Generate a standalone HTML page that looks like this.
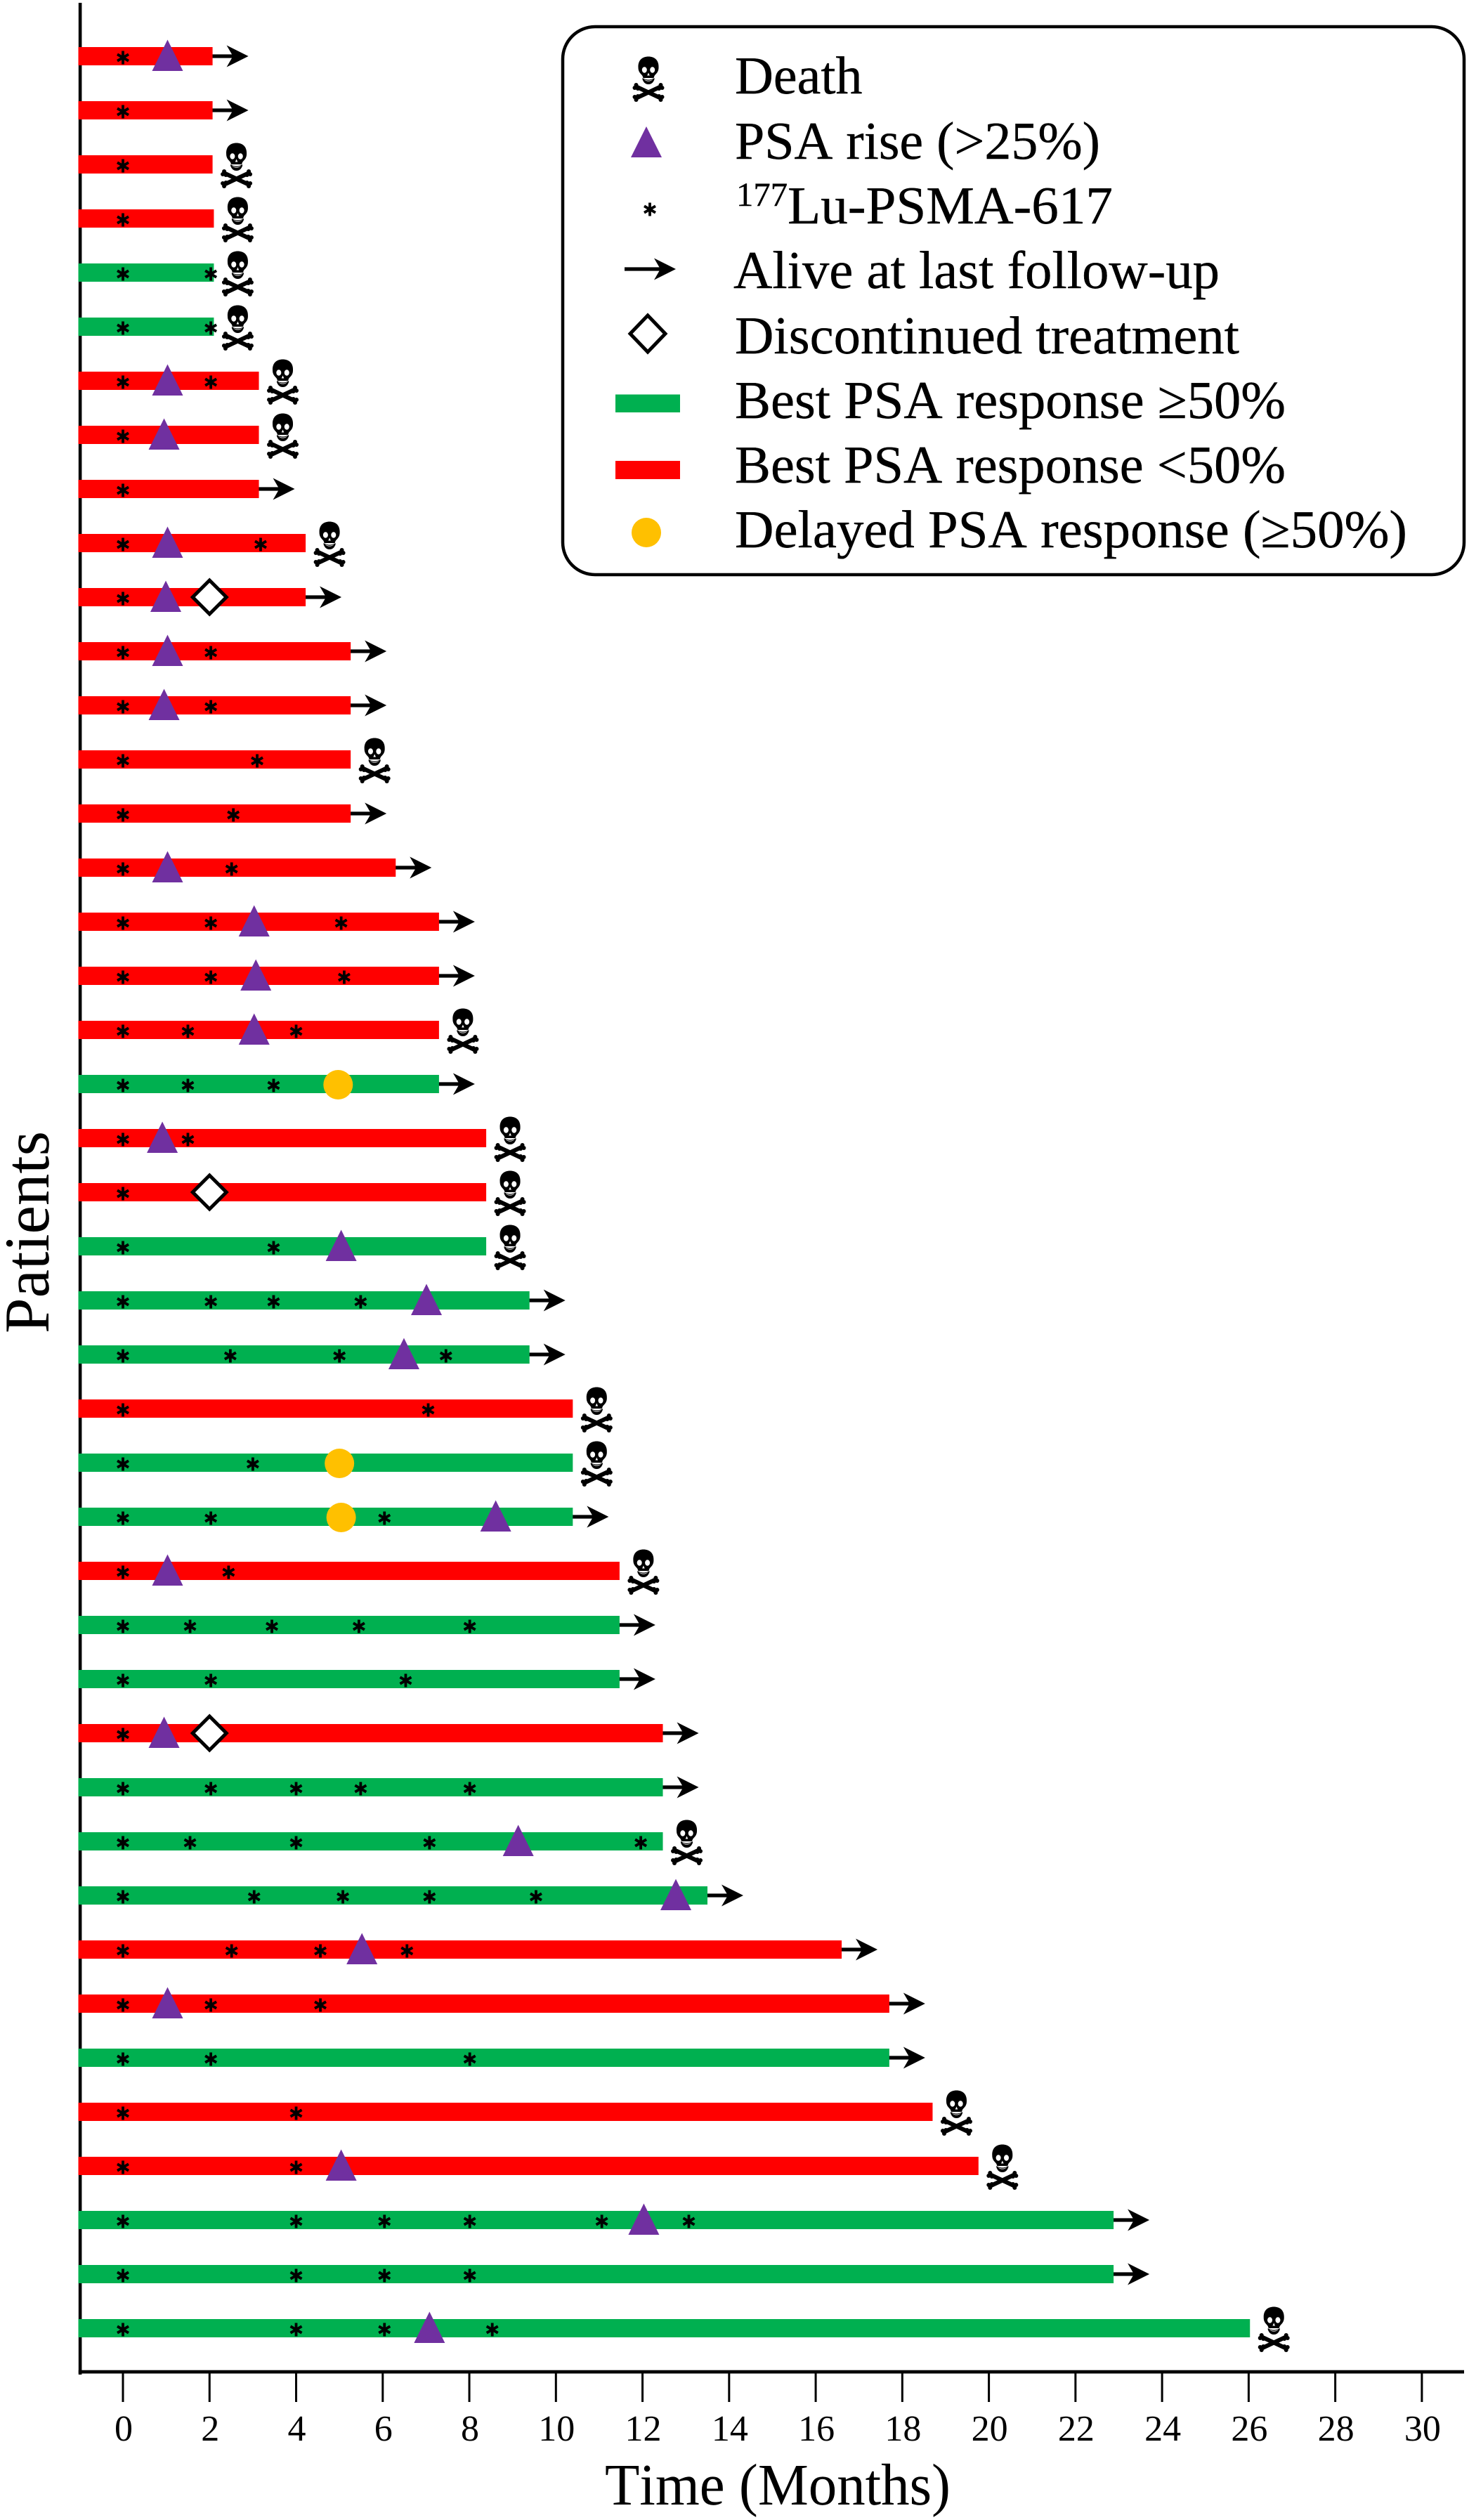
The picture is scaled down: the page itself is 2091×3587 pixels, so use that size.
<!DOCTYPE html>
<html lang="en">
<head>
<meta charset="utf-8">
<title>Patient swimmer plot</title>
<style>
html,body{margin:0;padding:0;background:#fff;}
svg{display:block;font-family:"Liberation Serif",serif;fill:#000;font-kerning:none;text-rendering:geometricPrecision;}
</style>
</head>
<body>
<svg id="chart" xmlns="http://www.w3.org/2000/svg" width="2091" height="3587" viewBox="0 0 2091 3587">
  <rect width="2091" height="3587" fill="#fff"/>
  <g id="plot"></g>
  <text x="69" y="1754" transform="rotate(-90 69 1754)" text-anchor="middle" font-size="91" textLength="288" lengthAdjust="spacingAndGlyphs">Patients</text>
  <text x="861" y="3565" font-size="84" textLength="492" lengthAdjust="spacingAndGlyphs">Time (Months)</text>

  <g>
    <rect x="801" y="38" width="1283" height="780" rx="46" ry="46" fill="#fff" stroke="#000" stroke-width="4.5"/>
    <g id="legend-symbols">
      <polygon points="920,180 942,224 898,224" fill="#7030A0"/>
      <rect x="876" y="561.5" width="92" height="25.5" fill="#00B050"/>
      <rect x="876" y="656" width="92" height="26" fill="#FF0000"/>
      <ellipse cx="920" cy="758" rx="21" ry="21" fill="#FFC000"/>
      <polygon points="922,449 947,475 922,501 897,475" fill="#fff" stroke="#000" stroke-width="5"/>
    </g>
    <g font-size="76" stroke="#000" stroke-width="0.4">
      <text x="1046" y="133">Death</text>
      <text x="1046" y="226">PSA rise (&gt;25%)</text>
      <text x="1048" y="318" textLength="536" lengthAdjust="spacingAndGlyphs"><tspan font-size="48" dy="-25">177</tspan><tspan dy="25">Lu-PSMA-617</tspan></text>
      <text x="1044" y="410" textLength="692" lengthAdjust="spacingAndGlyphs">Alive at last follow-up</text>
      <text x="1046" y="503" textLength="718" lengthAdjust="spacingAndGlyphs">Discontinued treatment</text>
      <text x="1046" y="595" textLength="784" lengthAdjust="spacingAndGlyphs">Best PSA response ≥50%</text>
      <text x="1046" y="687" textLength="784" lengthAdjust="spacingAndGlyphs">Best PSA response &lt;50%</text>
      <text x="1046" y="779" textLength="957" lengthAdjust="spacingAndGlyphs">Delayed PSA response (≥50%)</text>
    </g>
  </g>
</svg>
<script>
const patientIds = [1,2,3,4,5,6,7,8,9,10,11,12,13,14,15,16,17,18,19,20,21,22,23,24,25,26,27,28,29,30,31,32,33,34,35,36,37,38,39,40,41,42,43];
const durations = [2.07,2.07,2.07,2.10,2.10,2.10,3.14,3.14,3.14,4.22,4.22,5.26,5.26,5.26,5.26,6.30,7.30,7.30,7.30,7.30,8.39,8.39,8.39,9.39,9.39,10.39,10.39,10.39,11.47,11.47,11.47,12.47,12.47,12.47,13.50,16.60,17.70,17.70,18.70,19.76,22.88,22.88,26.03];
const responses = ['low','low','low','low','high','high','low','low','low','low','low','low','low','low','low','low','low','low','low','high','low','low','high','high','high','low','high','high','low','high','high','low','high','high','high','low','low','high','low','low','high','high','high'];
const outcomes = ['alive','alive','death','death','death','death','death','death','alive','death','alive','alive','alive','death','alive','alive','alive','alive','death','alive','death','death','death','alive','alive','death','death','alive','death','alive','alive','alive','alive','death','alive','alive','alive','alive','death','death','alive','alive','death'];
const doses = [[0],[0],[0],[0],[0,2.03],[0,2.03],[0,2.03],[0],[0],[0,3.18],[0],[0,2.03],[0,2.03],[0,3.10],[0,2.55],[0,2.51],[0,2.03,5.04],[0,2.03,5.11],[0,1.50,4.00],[0,1.50,3.48],[0,1.50],[0],[0,3.48],[0,2.03,3.48,5.49],[0,2.48,5.00,7.46],[0,7.05],[0,3.00],[0,2.03,6.04],[0,2.44],[0,1.55,3.44,5.45,8.01],[0,2.03,6.53],[0],[0,2.03,4.00,5.49,8.01],[0,1.55,4.00,7.08,11.96],[0,3.03,5.08,7.08,9.54],[0,2.51,4.56,6.56],[0,2.03,4.56],[0,2.03,8.01],[0,4.00],[0,4.00],[0,4.00,6.04,8.01,11.06,13.07],[0,4.00,6.04,8.01],[0,4.00,6.04,8.53]];
const psaRise = [1.03,null,null,null,null,null,1.03,0.95,null,1.03,0.99,1.03,0.95,null,null,1.03,3.03,3.07,3.03,null,0.91,null,5.04,7.01,6.49,null,null,8.61,1.03,null,null,0.95,null,9.13,12.77,5.52,1.03,null,null,5.04,12.03,null,7.08];
const discontinued = [null,null,null,null,null,null,null,null,null,null,2.00,null,null,null,null,null,null,null,null,null,null,2.00,null,null,null,null,null,null,null,null,null,2.00,null,null,null,null,null,null,null,null,null,null,null];
const delayedResponse = [null,null,null,null,null,null,null,null,null,null,null,null,null,null,null,null,null,null,null,4.97,null,null,null,null,null,null,5.00,5.04,null,null,null,null,null,null,null,null,null,null,null,null,null,null,null];
const xTickLabels = [0,2,4,6,8,10,12,14,16,18,20,22,24,26,28,30];

const NS = 'http://www.w3.org/2000/svg';
const plot = document.getElementById('plot');
const legendSymbols = document.getElementById('legend-symbols');
const xScale = m => 175 + 61.63 * m;
const yScale = i => 80 + 77 * i;
const colors = { high: '#00B050', low: '#FF0000' };

function make(tag, attrs, parent) {
  const el = document.createElementNS(NS, tag);
  for (const k in attrs) el.setAttribute(k, attrs[k]);
  parent.appendChild(el);
  return el;
}

function drawSkull(parent, cx, cy) {
  const g = make('g', { transform: 'translate(' + cx + ' ' + cy + ')' }, parent);
  
  
  make('path', { fill: '#000', d: 'M-14.5,-14 C-15,-25 -8,-29.5 0,-29.5 C8,-29.5 15,-25 14.5,-14 C14.5,-7 10.5,-5 8.5,-2 L7.5,1 H-7.5 L-8.5,-2 C-10.5,-5 -14.5,-7 -14.5,-14Z' }, g);
  make('ellipse', { fill: '#fff', cx: -5.7, cy: -10.5, rx: 3.5, ry: 4.2 }, g);
  make('ellipse', { fill: '#fff', cx: 5.7, cy: -10.5, rx: 3.5, ry: 4.2 }, g);
  make('path', { fill: '#fff', d: 'M0,-6.5 L1.8,-2.5 H-1.8Z' }, g);
  make('path', { fill: '#000', d: 'M-8.5,1 Q0,6 8.5,1 L8.5,3 Q6,10 0,10 Q-6,10 -8.5,3Z' }, g);
  make('path', { fill: '#fff', d: 'M-6.5,2.6 Q0,6.8 6.5,2.6 Q4,5.6 0,5.6 Q-4,5.6 -6.5,2.6Z' }, g);
  make('path', { fill: 'none', stroke: '#000', 'stroke-width': 6, d: 'M-16,14 L16,29 M16,14 L-16,29' }, g);
  const knobs = [[-17.5,11],[-15,16],[-19.5,15],[17.5,11],[15,16],[19.5,15],[-17.5,32],[-15,27],[-19.5,28],[17.5,32],[15,27],[19.5,28]];
  knobs.forEach(p => make('circle', { cx: p[0], cy: p[1], r: 3, fill: '#000' }, g));
}

function drawStar(parent, cx, cy) {
  const s = make('path', {
    d: 'M' + cx + ',' + (cy - 9.5) + 'V' + (cy + 9.5) + 'M' + (cx - 8) + ',' + (cy - 4.7) + 'L' + (cx + 8) + ',' + (cy + 4.7) + 'M' + (cx - 8) + ',' + (cy + 4.7) + 'L' + (cx + 8) + ',' + (cy - 4.7),
    stroke: '#000', 'stroke-width': 3.8, fill: 'none'
  }, parent);
  
  
}

function drawArrow(parent, x0, cy, tip) {
  const a = make('g', {}, parent);
  
  
  make('rect', { x: x0, y: cy - 2.6, width: tip - x0 - 14, height: 5.2, fill: '#000' }, a);
  make('polygon', { points: tip + ',' + cy + ' ' + (tip - 31) + ',' + (cy - 15.5) + ' ' + (tip - 22) + ',' + cy + ' ' + (tip - 31) + ',' + (cy + 15.5), fill: '#000' }, a);
}

function drawDiamond(parent, cx, cy) {
  const d = make('polygon', { points: cx + ',' + (cy - 24) + ' ' + (cx + 24) + ',' + cy + ' ' + cx + ',' + (cy + 24) + ' ' + (cx - 24) + ',' + cy, fill: '#fff', stroke: '#000', 'stroke-width': 5 }, parent);
  
  
}

/* axes */
const ySpine = make('rect', { x: 111.8, y: 4, width: 4.6, height: 3376, fill: '#000' }, plot);


const xSpine = make('rect', { x: 111.8, y: 3373.7, width: 1972.2, height: 4.8, fill: '#000' }, plot);



xTickLabels.forEach(t => {
  const x = xScale(t);
  const tick = make('rect', { x: x - 1.5, y: 3378, width: 3, height: 41, fill: '#000' }, plot);
  
  
  const lab = make('text', { x: x + 1, y: 3474, 'text-anchor': 'middle', 'font-size': 52 }, plot);
  
  
  lab.textContent = String(t);
});

/* rows */
patientIds.forEach((id, i) => {
  const y = yScale(i);
  const end = xScale(durations[i]);
  const row = make('g', {}, plot);
  
  

  if (outcomes[i] === 'alive') drawArrow(row, end - 3, y, end + 51);

  const bar = make('rect', { x: 111.5, y: y - 13, width: end - 111.5, height: 26, fill: colors[responses[i]] }, row);
  
  

  doses[i].forEach(m => drawStar(row, xScale(m), y + 2));

  if (psaRise[i] !== null) {
    const cx = xScale(psaRise[i]);
    const tri = make('polygon', { points: cx + ',' + (y - 23.5) + ' ' + (cx + 22) + ',' + (y + 21) + ' ' + (cx - 22) + ',' + (y + 21), fill: '#7030A0' }, row);
    
    
  }
  if (delayedResponse[i] !== null) {
    const c = make('circle', { cx: xScale(delayedResponse[i]), cy: y + 1, r: 21, fill: '#FFC000' }, row);
    
    
  }
  if (discontinued[i] !== null) drawDiamond(row, xScale(discontinued[i]), y);
  if (outcomes[i] === 'death') drawSkull(row, end + 34, y - 1);
});

/* legend symbols drawn with the same marker shapes */
drawSkull(legendSymbols, 923, 110);
drawStar(legendSymbols, 925, 298);
drawArrow(legendSymbols, 889, 383, 962);
</script>
</body>
</html>
